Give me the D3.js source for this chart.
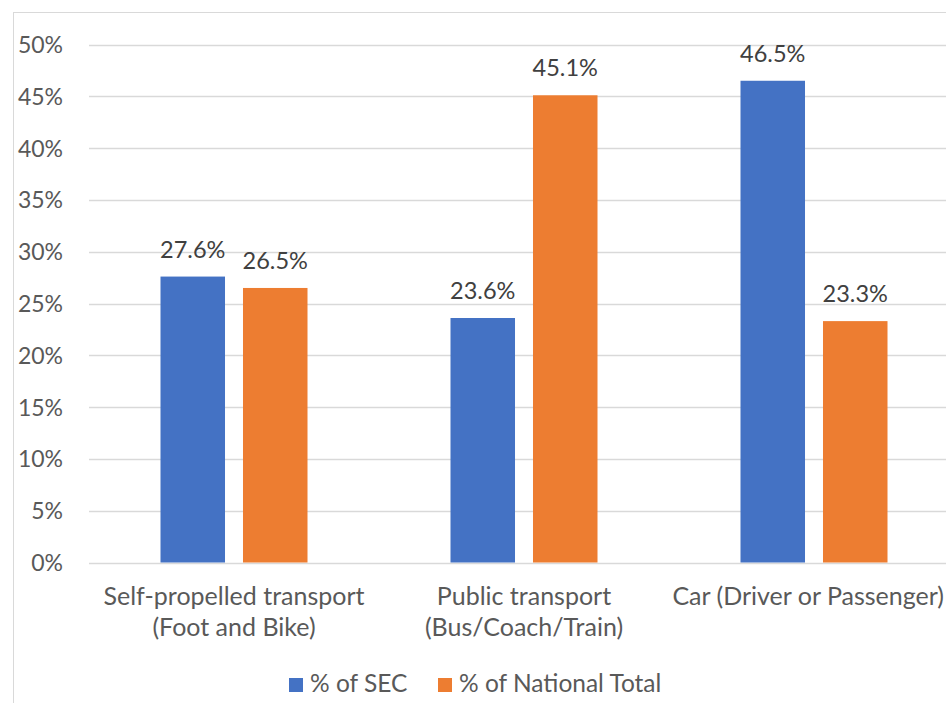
<!DOCTYPE html>
<html>
<head>
<meta charset="utf-8">
<script src="https://cdn.jsdelivr.net/npm/d3@7"></script>
<style>
  html, body { margin: 0; padding: 0; background: #fff; overflow: hidden; }
  svg { display: block; }
  text { font-family: Lato, "Open Sans", sans-serif; }
</style>
</head>
<body>
<svg id="chart" width="946" height="703"></svg>
<script>
const categories = [
  ["Self-propelled transport", "(Foot and Bike)"],
  ["Public transport", "(Bus/Coach/Train)"],
  ["Car (Driver or Passenger)"]
];
const seriesNames = ["% of SEC", "% of National Total"];
const secValues = [0.276, 0.236, 0.465];
const nationalValues = [0.265, 0.451, 0.233];
const yTicks = [0, 0.05, 0.10, 0.15, 0.20, 0.25, 0.30, 0.35, 0.40, 0.45, 0.50];
const colors = ["#4472C4", "#ED7D31"];

const svg = d3.select("#chart");
const W = 946, H = 703;

// chart frame
svg.append("rect").attr("x", 13.5).attr("y", 12.5).attr("width", 1000).attr("height", 1000)
  .attr("fill", "#fff").attr("stroke", "#d9d9d9").attr("stroke-width", 1);

const catKeys = categories.map((c, i) => i);
const x0 = d3.scaleBand().domain(catKeys).range([89, 959]).paddingInner(0).paddingOuter(0);
const x1 = d3.scaleBand().domain(seriesNames).range([71.5, x0.bandwidth() - 71.5]).paddingInner(0.218).paddingOuter(0);
const y = d3.scaleLinear().domain([0, 0.5]).range([562.5, 44.5]);

// gridlines
svg.append("g").selectAll("line").data(yTicks).join("line")
  .attr("x1", 89).attr("x2", W)
  .attr("y1", d => Math.round(y(d)) + 0.5).attr("y2", d => Math.round(y(d)) + 0.5)
  .attr("stroke", "#d9d9d9").attr("stroke-width", 1.5);

// y axis labels
const yAxis = d3.axisLeft(y).tickValues(yTicks).tickFormat(d3.format(".0%")).tickSize(0).tickPadding(0);
const yg = svg.append("g").attr("transform", "translate(63,0)").call(yAxis);
yg.select(".domain").remove();
yg.selectAll("text").attr("fill", "#595959").attr("font-size", 23).attr("font-family", "Lato, sans-serif").attr("dy", "0.35em");

// bars
const data = catKeys.map(i => ({cat: i, vals: [
  {s: seriesNames[0], v: secValues[i], c: colors[0]},
  {s: seriesNames[1], v: nationalValues[i], c: colors[1]}
]}));

const groups = svg.append("g").selectAll("g").data(data).join("g")
  .attr("transform", d => `translate(${x0(d.cat)},0)`);

groups.selectAll("rect").data(d => d.vals).join("rect")
  .attr("x", d => x1(d.s)).attr("width", x1.bandwidth())
  .attr("y", d => y(d.v)).attr("height", d => y(0) - y(d.v))
  .attr("fill", d => d.c);

groups.selectAll("text.val").data(d => d.vals).join("text")
  .attr("class", "val")
  .attr("x", d => x1(d.s) + x1.bandwidth() / 2)
  .attr("y", d => y(d.v) - 19)
  .attr("text-anchor", "middle")
  .attr("font-size", 23.5)
  .attr("fill", "#404040")
  .text(d => d3.format(".1%")(d.v));

// x axis category labels
const catG = svg.append("g").selectAll("text").data(catKeys).join("text")
  .attr("x", i => x0(i) + x0.bandwidth() / 2)
  .attr("y", 605)
  .attr("text-anchor", "middle")
  .attr("font-size", 25)
  .attr("fill", "#595959");
catG.selectAll("tspan").data(i => categories[i]).join("tspan")
  .attr("x", function() { return d3.select(this.parentNode).attr("x"); })
  .attr("dy", (d, j) => j === 0 ? 0 : 31)
  .text(d => d);
// keep labels inside the window
catG.each(function() {
  const t = d3.select(this);
  const bb = this.getBBox();
  const over = bb.x + bb.width - (W - 2);
  if (over > 0) {
    const nx = +t.attr("x") - over;
    t.attr("x", nx);
    t.selectAll("tspan").attr("x", nx);
  }
});

// legend
const legendX = [289, 438];
const lg = svg.append("g").selectAll("g").data(seriesNames).join("g")
  .attr("transform", (d, i) => `translate(${legendX[i]},678)`);
lg.append("rect").attr("width", 14).attr("height", 14).attr("fill", (d, i) => colors[i]);
lg.append("text").attr("x", 21).attr("y", 14).attr("font-size", 24.5).attr("fill", "#595959").text(d => d);
</script>
</body>
</html>
